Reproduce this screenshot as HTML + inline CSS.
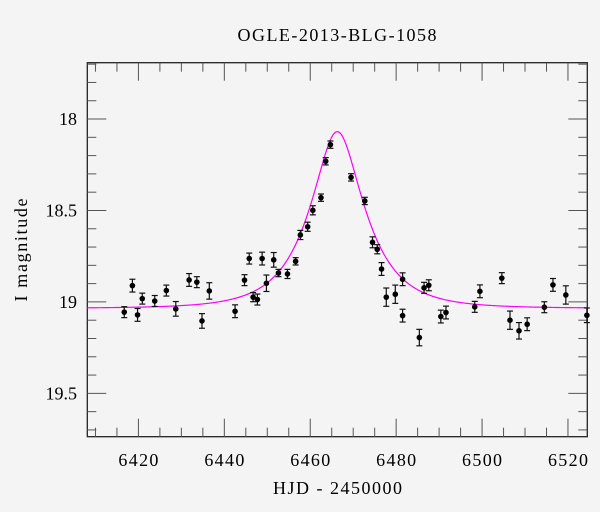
<!DOCTYPE html>
<html><head><meta charset="utf-8"><style>
html,body{margin:0;padding:0;background:#f4f4f4;}
svg{display:block;font-family:"Liberation Serif",serif;}
</style></head><body>
<svg id="chart" width="600" height="512" viewBox="0 0 600 512" xmlns="http://www.w3.org/2000/svg">
<rect width="600" height="512" fill="#f4f4f4"/>
<text x="337" y="41" font-size="18" text-anchor="middle" textLength="199">OGLE-2013-BLG-1058</text>
<text x="337.5" y="494" font-size="18" text-anchor="middle" textLength="129">HJD - 2450000</text>
<text transform="translate(27,250) rotate(-90)" font-size="18" text-anchor="middle" textLength="103">I magnitude</text>
<g id="axes"></g>
<g id="model"></g>
<g id="points"></g>
</svg>
<script>
const hjd = [6416.7,6418.6,6419.8,6420.9,6423.8,6426.5,6428.7,6431.8,6433.6,6434.8,6436.5,6442.5,6444.7,6445.8,6446.7,6447.7,6448.8,6449.8,6451.5,6452.6,6454.7,6456.6,6457.7,6459.4,6460.6,6462.5,6463.6,6464.7,6469.5,6472.7,6474.5,6475.6,6476.6,6477.7,6479.8,6481.5,6481.5,6485.4,6486.5,6487.6,6490.4,6491.6,6498.3,6499.5,6504.6,6506.5,6508.6,6510.5,6514.5,6516.5,6519.5,6524.4];
const mag = [19.056,18.911,19.071,18.982,18.995,18.938,19.038,18.880,18.892,19.104,18.940,19.051,18.881,18.763,18.974,18.987,18.763,18.898,18.770,18.842,18.847,18.778,18.634,18.589,18.499,18.430,18.231,18.140,18.319,18.448,18.674,18.712,18.820,18.974,18.958,18.876,19.075,19.195,18.923,18.909,19.080,19.058,19.027,18.942,18.870,19.100,19.158,19.122,19.029,18.907,18.962,19.073];
const magErr = [0.03,0.035,0.035,0.03,0.03,0.03,0.04,0.035,0.03,0.04,0.045,0.035,0.03,0.03,0.025,0.03,0.035,0.045,0.04,0.02,0.025,0.02,0.025,0.025,0.025,0.02,0.02,0.02,0.02,0.02,0.03,0.025,0.035,0.05,0.05,0.035,0.035,0.045,0.03,0.03,0.035,0.035,0.03,0.035,0.03,0.05,0.045,0.035,0.03,0.035,0.05,0.04];
const xTicks = [6420,6440,6460,6480,6500,6520];
const yTicks = [18,18.5,19,19.5];
const modelT0 = 6466.3, modelU0 = 0.44, modelTE = 11.5, modelBase = 19.035;

const X0=87.3, X1=587.3, Y0=62.7, Y1=436.7;
const xMin=6408.1, xMax=6524.5, yMin=17.692, yMax=19.737;
const xs = v => X0 + (v - xMin) / (xMax - xMin) * (X1 - X0);
const ys = v => Y0 + (v - yMin) / (yMax - yMin) * (Y1 - Y0);
const NS="http://www.w3.org/2000/svg";
function mk(tag, attrs, parent){const e=document.createElementNS(NS,tag);for(const k in attrs)e.setAttribute(k,attrs[k]);parent.appendChild(e);return e;}

const axes=document.getElementById('axes');
const frame=mk('rect',{x:X0,y:Y0,width:X1-X0,height:Y1-Y0,fill:'none',stroke:'#222','stroke-width':1.3},axes);


for(let t=6410;t<=6524;t+=5){
  const x=xs(t), major=(t%20===0), L=major?18:9;
  const a=mk('line',{x1:x,x2:x,y1:Y1,y2:Y1-L,stroke:'#555','stroke-width':1},axes);
  
  
  const b=mk('line',{x1:x,x2:x,y1:Y0,y2:Y0+L,stroke:'#555','stroke-width':1},axes);
  
  
}
for(let i=0;i<=20;i++){
  const v=17.7+i*0.1; if(v>yMax)break;
  const y=ys(v), major=(Math.abs(v*2-Math.round(v*2))<1e-6), L=major?19:9;
  const a=mk('line',{x1:X0,x2:X0+L,y1:y,y2:y,stroke:'#555','stroke-width':1},axes);
  
  
  const b=mk('line',{x1:X1,x2:X1-L,y1:y,y2:y,stroke:'#555','stroke-width':1},axes);
  
  
}
xTicks.forEach(t=>{
  const e=mk('text',{x:xs(t),y:466,'font-size':18,'text-anchor':'middle',textLength:40},axes);
  e.textContent=t;
  
  
});
yTicks.forEach(v=>{
  const e=mk('text',{x:77,y:ys(v)+6,'font-size':18,'text-anchor':'end'},axes);
  e.textContent=String(v);
  
  
});

// model curve
function modelMag(t){const tau=(t-modelT0)/modelTE;const u=Math.sqrt(modelU0*modelU0+tau*tau);const A=(u*u+2)/(u*Math.sqrt(u*u+4));return modelBase-2.5*Math.log10(A);}
let d='';
for(let t=xMin;t<=xMax;t+=0.2){d+=(d?'L':'M')+xs(t).toFixed(2)+','+ys(modelMag(t)).toFixed(2);}
const path=mk('path',{d:d,fill:'none',stroke:'#ff00ff','stroke-width':1.2},document.getElementById('model'));



// data points
const pts=document.getElementById('points');
hjd.forEach((t,i)=>{
  const x=xs(t), y=ys(mag[i]), ya=ys(mag[i]-magErr[i]), yb=ys(mag[i]+magErr[i]);
  const g=mk('g',{},pts);
  
  
  mk('line',{x1:x,x2:x,y1:ya,y2:yb,stroke:'#111','stroke-width':1.2},g);
  mk('line',{x1:x-3,x2:x+3,y1:ya,y2:ya,stroke:'#111','stroke-width':1.2},g);
  mk('line',{x1:x-3,x2:x+3,y1:yb,y2:yb,stroke:'#111','stroke-width':1.2},g);
  mk('circle',{cx:x,cy:y,r:2.8,fill:'#000'},g);
});
</script>
</body></html>
